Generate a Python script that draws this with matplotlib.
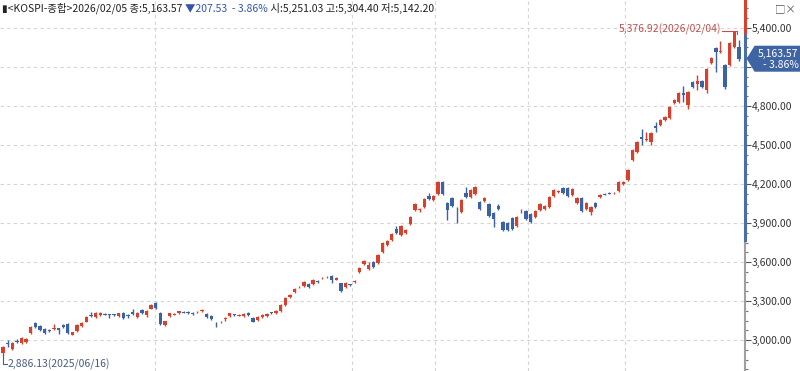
import matplotlib
matplotlib.use("Agg")
import matplotlib.pyplot as plt
import matplotlib.transforms as mtransforms
from matplotlib.patches import Polygon
from matplotlib.ticker import MultipleLocator, FuncFormatter

plt.rcParams['font.family'] = ['Noto Sans CJK KR', 'DejaVu Sans']

# daily KOSPI candles, 2025/06/16 .. 2026/02/05
opens = [2900, 2975, 2930, 2995, 2977, 2985, 3054, 3130, 3108, 3085,
         3080, 3085, 3092, 3115, 3123, 3040, 3070, 3108, 3138, 3192,
         3177, 3190, 3203, 3198, 3196, 3185, 3207, 3195, 3215, 3177,
         3230, 3192, 3240, 3285, 3207, 3115, 3185, 3195, 3207, 3218,
         3215, 3210, 3214, 3224, 3200, 3185, 3132, 3135, 3165, 3185,
         3198, 3187, 3185, 3207, 3170, 3154, 3177, 3185, 3214, 3207,
         3223, 3270, 3330, 3370, 3406, 3415, 3430, 3430, 3455, 3476,
         3484, 3490, 3462, 3438, 3408, 3428, 3448, 3523, 3585, 3546,
         3600, 3592, 3677, 3730, 3770, 3853, 3808, 3823, 3892, 4000,
         4000, 4023, 4108, 4077, 4123, 4215, 4054, 4092, 3972, 3985,
         4130, 4100, 4123, 4062, 4070, 4046, 3977, 4030, 3908, 3900,
         3938, 3877, 3983, 3992, 3970, 3946, 4000, 4008, 4023, 4108,
         4135, 4170, 4170, 4115, 4054, 4092, 4008, 3985, 4054, 4100,
         4123, 4134, 4129, 4146, 4200, 4230, 4385, 4446, 4560, 4535,
         4523, 4646, 4654, 4692, 4708, 4823, 4830, 4896, 4808, 4985,
         4970, 4992, 4923, 5130, 5246, 5212, 5115, 5115, 5254, 5251.03]
highs = [2955, 3000, 2985, 3005, 3020, 3015, 3105, 3138, 3115, 3090,
         3085, 3123, 3095, 3120, 3128, 3065, 3120, 3135, 3182, 3215,
         3212, 3212, 3208, 3202, 3200, 3210, 3212, 3200, 3235, 3212,
         3235, 3228, 3278, 3292, 3212, 3150, 3210, 3208, 3225, 3222,
         3220, 3215, 3225, 3235, 3205, 3190, 3138, 3145, 3178, 3210,
         3202, 3197, 3205, 3212, 3175, 3182, 3197, 3205, 3218, 3228,
         3275, 3330, 3352, 3398, 3418, 3452, 3436, 3466, 3460, 3486,
         3494, 3500, 3482, 3442, 3444, 3433, 3462, 3560, 3614, 3600,
         3610, 3660, 3755, 3768, 3822, 3880, 3885, 3856, 3953, 4053,
         4015, 4092, 4130, 4115, 4222, 4222, 4060, 4100, 4020, 4083,
         4180, 4160, 4185, 4068, 4098, 4052, 3985, 4050, 3914, 3908,
         3945, 3952, 4010, 3998, 3976, 3998, 4052, 4036, 4106, 4160,
         4152, 4176, 4176, 4166, 4100, 4098, 4060, 4028, 4060, 4122,
         4128, 4140, 4136, 4222, 4222, 4315, 4466, 4530, 4620, 4600,
         4600, 4680, 4698, 4720, 4798, 4852, 4906, 4950, 4915, 4992,
         5040, 5000, 5090, 5176, 5254, 5300, 5122, 5292, 5376.92, 5304.40]
lows = [2886.13, 2946, 2925, 2975, 2970, 2980, 3050, 3095, 3070, 3050,
        3065, 3075, 3046, 3095, 3050, 3035, 3065, 3100, 3135, 3180,
        3172, 3185, 3190, 3170, 3185, 3180, 3165, 3170, 3195, 3172,
        3200, 3175, 3235, 3240, 3118, 3110, 3180, 3190, 3202, 3205,
        3200, 3190, 3205, 3215, 3170, 3155, 3100, 3128, 3150, 3180,
        3188, 3182, 3180, 3188, 3135, 3150, 3172, 3180, 3200, 3202,
        3218, 3265, 3325, 3365, 3398, 3410, 3402, 3425, 3440, 3468,
        3476, 3438, 3458, 3370, 3403, 3415, 3440, 3518, 3578, 3540,
        3555, 3588, 3670, 3724, 3765, 3818, 3802, 3818, 3886, 3994,
        3985, 4018, 4080, 4070, 4118, 4118, 3923, 4024, 3900, 3978,
        4095, 4095, 4118, 4002, 4065, 3948, 3870, 4002, 3840, 3840,
        3848, 3870, 3975, 3924, 3900, 3940, 3994, 4002, 4018, 4102,
        4130, 4125, 4102, 4110, 4048, 3986, 4002, 3965, 4018, 4095,
        4112, 4120, 4124, 4140, 4195, 4225, 4380, 4440, 4500, 4530,
        4500, 4600, 4648, 4686, 4702, 4816, 4824, 4830, 4780, 4938,
        4920, 4935, 4900, 5124, 5060, 5205, 4930, 5108, 5248, 5142.20]
closes = [2946, 2970, 2977, 2985, 3015, 3010, 3100, 3100, 3077, 3054,
          3072, 3088, 3080, 3100, 3054, 3060, 3115, 3130, 3177, 3188,
          3207, 3207, 3196, 3194, 3195, 3205, 3170, 3188, 3200, 3207,
          3207, 3223, 3270, 3246, 3123, 3146, 3205, 3203, 3220, 3210,
          3205, 3200, 3216, 3226, 3175, 3160, 3130, 3140, 3172, 3205,
          3192, 3192, 3200, 3192, 3140, 3177, 3192, 3200, 3206, 3223,
          3270, 3323, 3346, 3392, 3409, 3446, 3408, 3460, 3445, 3478,
          3486, 3460, 3476, 3377, 3438, 3420, 3452, 3553, 3607, 3577,
          3561, 3653, 3746, 3760, 3815, 3823, 3877, 3850, 3946, 4046,
          4003, 4085, 4085, 4108, 4215, 4123, 4000, 4030, 3968, 4077,
          4100, 4154, 4177, 4008, 4092, 3954, 3930, 4008, 3846, 3846,
          3854, 3946, 3987, 3930, 3908, 3992, 4046, 4030, 4100, 4154,
          4145, 4130, 4108, 4160, 4092, 3992, 4054, 4023, 4023, 4115,
          4117, 4126, 4131, 4215, 4215, 4308, 4460, 4523, 4546, 4545,
          4592, 4630, 4692, 4715, 4792, 4846, 4900, 4888, 4908, 4946,
          4992, 4946, 5085, 5170, 5215, 5222, 4946, 5285, 5371.10, 5163.57]

# month-start separators (candle index)
month_breaks = [32.8, 75.4, 93.3, 113.4, 134.3]
price_ticks = [3000, 3300, 3600, 3900, 4200, 4500, 4800, 5100, 5400]
hidden_tick = 5100  # sits behind the last-price box

RED = '#d8402c'
BLUE = '#3b62a6'

fig = plt.figure(figsize=(8, 3.71), dpi=100)
ax = fig.add_axes([0, 0, 745 / 800, 1])

n = len(closes)
for i in range(n):
    o, h, l, c = opens[i], highs[i], lows[i], closes[i]
    col = RED if c >= o else BLUE
    ax.plot([i, i], [l, h], color=col, lw=1, solid_capstyle='butt', zorder=3)
    body = max(abs(c - o), 4)
    ax.bar(i, body, bottom=min(o, c), width=0.72, color=col, linewidth=0, zorder=4)

ax.set_xlim(-0.65, 160.3)
ax.set_ylim(2762, 5615)

for v in price_ticks:
    ax.axhline(v, color='#d4d4d4', lw=0.8, ls=(0, (3, 3)), zorder=1)
for b in month_breaks:
    ax.axvline(b, color='#d4d4d4', lw=0.8, ls=(0, (3, 3)), zorder=1)

# right price axis
for s in ['left', 'top', 'bottom', 'right']:
    ax.spines[s].set_visible(False)
ax.set_xticks([])
ax.yaxis.tick_right()
ax.set_yticks(price_ticks)
ax.yaxis.set_major_formatter(FuncFormatter(lambda v, p: '' if v == hidden_tick else f'{v:,.2f}'))
ax.yaxis.set_minor_locator(MultipleLocator(75))
ax.tick_params(axis='y', which='major', direction='out', length=4, width=0.8,
               color='#555555', labelsize=7.5, labelcolor='#333333', pad=1)
ax.tick_params(axis='y', which='minor', direction='out', length=2, width=0.8, color='#777777')

trans = mtransforms.blended_transform_factory(ax.transAxes, ax.transData)
ax.plot([1, 1], [2762, 3770], transform=trans, color='#a0a0a0', lw=1.5, clip_on=False, zorder=6)
ax.plot([1, 1], [3770, 5370], transform=trans, color='#4a6fa8', lw=2.2, clip_on=False, zorder=6)
ax.plot([1, 1], [5370, 5615], transform=trans, color='#d8402c', lw=2.2, clip_on=False, zorder=6)

# last price box
last = closes[-1]
fig_tr = mtransforms.blended_transform_factory(fig.transFigure, ax.transData)
x0 = 745 / 800
box = Polygon([[x0 + 0.002, last], [x0 + 0.012, last + 100], [1.0, last + 100],
               [1.0, last - 100], [x0 + 0.012, last - 100]],
              closed=True, transform=fig_tr, facecolor='#3f64a4', edgecolor='none',
              clip_on=False, zorder=10)
fig.patches.append(box)
fig.text(0.998, last + 40, '5,163.57', transform=fig_tr, ha='right', va='center',
         color='white', fontsize=7.5, zorder=11)
fig.text(0.998, last - 50, '- 3.86%', transform=fig_tr, ha='right', va='center',
         color='white', fontsize=7.5, zorder=11)

# high / low annotations
hi_i = highs.index(max(highs))
ax.plot([hi_i - 2.6, hi_i + 0.6, hi_i + 0.6], [highs[hi_i], highs[hi_i], highs[hi_i] - 25],
        color='#c0504d', lw=0.8, zorder=5)
ax.text(hi_i - 2.8, highs[hi_i] + 10, '5,376.92(2026/02/04)', ha='right', va='center',
        color='#c0504d', fontsize=7.5)
lo_i = lows.index(min(lows))
ax.plot([lo_i, lo_i, lo_i + 0.9], [lows[lo_i], 2815, 2815], color='#4a5c80', lw=0.8, zorder=5)
ax.text(lo_i + 1.0, 2815, '2,886.13(2025/06/16)', ha='left', va='center',
        color='#4a5c80', fontsize=7.5)

# header line
parts = [('▮<KOSPI-종합>2026/02/05 종:5,163.57 ', '#222222'),
         ('▼207.53  - 3.86%', '#3355aa'),
         (' 시:5,251.03 고:5,304.40 저:5,142.20', '#222222')]
fig.canvas.draw()
renderer = fig.canvas.get_renderer()
xpos = 2 / 800
for txt, col in parts:
    t = fig.text(xpos, 1 - 8 / 371, txt, ha='left', va='center', color=col, fontsize=7.5)
    bb = t.get_window_extent(renderer)
    xpos += bb.width / 800
fig.text(0.995, 1 - 9 / 371, '□×', ha='right', va='center', color='#555555', fontsize=7.5)

fig.savefig('out.png', dpi=100)
